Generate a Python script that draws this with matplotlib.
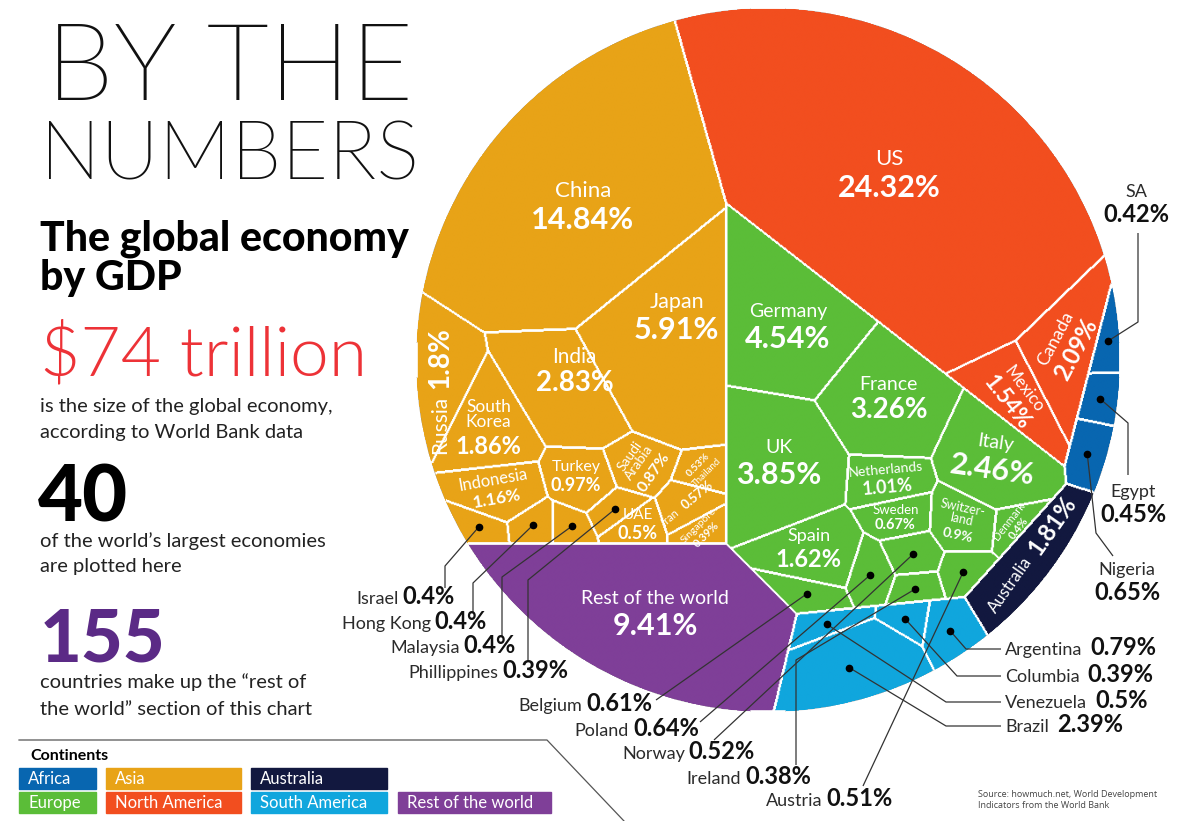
import numpy as np
import matplotlib
matplotlib.use('Agg')
import matplotlib.pyplot as plt
from matplotlib.patches import Circle, Rectangle
from matplotlib import font_manager
from matplotlib.font_manager import FontProperties

# share of world GDP (%), by continent
asia_names = ['China', 'Japan', 'India', 'South Korea', 'Russia', 'Indonesia', 'Turkey',
              'Saudi Arabia', 'UAE', 'Iran', 'Thailand', 'Singapore', 'Israel',
              'Hong Kong', 'Malaysia', 'Phillippines']
asia_gdp = [14.84, 5.91, 2.83, 1.86, 1.8, 1.16, 0.97, 0.87, 0.5, 0.57, 0.53, 0.39,
            0.4, 0.4, 0.4, 0.39]
namerica_names = ['US', 'Canada', 'Mexico']
namerica_gdp = [24.32, 2.09, 1.54]
europe_names = ['Germany', 'France', 'UK', 'Italy', 'Spain', 'Netherlands', 'Sweden',
                'Switzerland', 'Denmark', 'Belgium', 'Poland', 'Norway', 'Ireland', 'Austria']
europe_gdp = [4.54, 3.26, 3.85, 2.46, 1.62, 1.01, 0.67, 0.9, 0.4, 0.61, 0.64, 0.52,
              0.38, 0.51]
rest_names = ['Rest of the world']
rest_gdp = [9.41]
samerica_names = ['Argentina', 'Columbia', 'Venezuela', 'Brazil']
samerica_gdp = [0.79, 0.39, 0.5, 2.39]
australia_names = ['Australia']
australia_gdp = [1.81]
africa_names = ['SA', 'Egypt', 'Nigeria']
africa_gdp = [0.42, 0.45, 0.65]

groups = [('Asia', asia_names, asia_gdp),
          ('North America', namerica_names, namerica_gdp),
          ('Europe', europe_names, europe_gdp),
          ('Rest of the world', rest_names, rest_gdp),
          ('South America', samerica_names, samerica_gdp),
          ('Australia', australia_names, australia_gdp),
          ('Africa', africa_names, africa_gdp)]

colors = {'Africa': '#0866b0', 'Asia': '#e8a317', 'Australia': '#12183f',
          'Europe': '#5bbd38', 'North America': '#f24e1f', 'South America': '#10a6dd',
          'Rest of the world': '#7f3f98'}

# layout hints: generator points of the voronoi treemap (unit circle)
cont_seed = {'Asia': (-0.5, -0.05), 'North America': (0.46, 0.22), 'Europe': (0.25, -0.05),
             'Rest of the world': (-0.5, -0.8), 'South America': (0.345, -1.0),
             'Australia': (0.92, -0.65), 'Africa': (1.14, 0.045)}
seed = {'China': (-0.55, 0.5), 'Japan': (-0.26, 0.14), 'India': (-0.53, -0.01),
        'South Korea': (-0.78, -0.16), 'Russia': (-0.93, -0.085), 'Indonesia': (-0.76, -0.34),
        'Turkey': (-0.54, -0.28), 'Saudi Arabia': (-0.40, -0.23), 'UAE': (-0.41, -0.44),
        'Iran': (-0.23, -0.38), 'Thailand': (-0.21, -0.30), 'Singapore': (-0.19, -0.455),
        'Israel': (-0.81, -0.48), 'Hong Kong': (-0.68, -0.466), 'Malaysia': (-0.61, -0.466),
        'Phillippines': (-0.446, -0.39),
        'US': (0.36, 0.53), 'Canada': (0.84, 0.03), 'Mexico': (0.645, -0.07),
        'Germany': (0.06, 0.11), 'France': (0.32, -0.10), 'UK': (-0.01, -0.31),
        'Italy': (0.62, -0.24), 'Spain': (0.09, -0.57), 'Netherlands': (0.31, -0.335),
        'Sweden': (0.33, -0.43), 'Switzerland': (0.52, -0.44), 'Denmark': (0.66, -0.455),
        'Belgium': (0.065, -0.69), 'Poland': (0.23, -0.615), 'Norway': (0.355, -0.557),
        'Ireland': (0.364, -0.662), 'Austria': (0.52, -0.614),
        'Rest of the world': (-0.36, -0.71),
        'Argentina': (0.52, -0.78), 'Columbia': (0.40, -0.76), 'Venezuela': (0.29, -0.75),
        'Brazil': (0.335, -0.87),
        'Australia': (0.77, -0.51),
        'SA': (0.95, 0.12), 'Egypt': (0.955, -0.08), 'Nigeria': (0.92, -0.25)}

FONT = ['Lato', 'DejaVu Sans']
thin_file = next((f.fname for f in font_manager.fontManager.ttflist
                  if f.fname.endswith('Lato-ExtraLight.ttf')), None)


def thin(size):
    if thin_file:
        return FontProperties(fname=thin_file, size=size)
    return FontProperties(family=FONT, weight=300, size=size)


def grid(n):
    g = (np.arange(n) + 0.5) / n * 2 - 1
    gx, gy = np.meshgrid(g, g)
    ins = gx ** 2 + gy ** 2 <= 1
    return gx[ins], gy[ins], ins


def assign(px, py, pts, w):
    d2 = (px[:, None] - pts[:, 0]) ** 2 + (py[:, None] - pts[:, 1]) ** 2
    return np.argmin(d2 - w, axis=1)


def fit_weights(px, py, pts, vals, cell, steps=500):
    d2 = (px[:, None] - pts[:, 0]) ** 2 + (py[:, None] - pts[:, 1]) ** 2
    frac = np.asarray(vals, float) / np.sum(vals)
    w = np.zeros(len(frac))
    lr = len(px) * cell / np.pi
    for k in range(steps):
        lab = np.argmin(d2 - w, axis=1)
        area = np.bincount(lab, minlength=len(frac)) / len(px)
        w += lr * (1.2 - k / steps) * (frac - area)
    return w


# power diagram, first continents then countries inside each continent
NC, N = 240, 800
cx_, cy_, _ = grid(NC)
fx, fy, INS = grid(N)
cont_pts = np.array([cont_seed[g[0]] for g in groups])
wc = fit_weights(cx_, cy_, cont_pts, [sum(g[2]) for g in groups], (2 / NC) ** 2)
cont_c = assign(cx_, cy_, cont_pts, wc)
cont_f = assign(fx, fy, cont_pts, wc)

lab_f = np.full(len(fx), -1)
names, vals, conts = [], [], []
for ci, (cont, nm, v) in enumerate(groups):
    pts = np.array([seed[n] for n in nm])
    mc = cont_c == ci
    w = fit_weights(cx_[mc], cy_[mc], pts, v, (2 / NC) ** 2) if len(nm) > 1 else np.zeros(1)
    mf = cont_f == ci
    lab_f[mf] = len(names) + assign(fx[mf], fy[mf], pts, w)
    names += nm
    vals += v
    conts += [cont] * len(nm)

lab = np.full(INS.shape, -1)
lab[INS] = lab_f
rgba = np.zeros(INS.shape + (4,))
carr = np.array([matplotlib.colors.to_rgba(colors[c]) for c in conts])
rgba[INS] = carr[lab_f]
edge = np.zeros(INS.shape, bool)
for axis, s in [(0, 1), (0, -1), (0, 2), (1, 1), (1, -1), (1, 2)]:
    sh = np.roll(lab, s, axis=axis)
    edge |= (lab != sh) & (lab >= 0) & (sh >= 0)
rgba[edge] = (1, 1, 1, 1)

cent = {}
for k, n in enumerate(names):
    m = lab_f == k
    cent[n] = (fx[m].mean(), fy[m].mean()) if m.any() else seed[n]

# ---- figure ----
W, H = 1200, 821
CX, CY, R = 768, 360, 352
fig = plt.figure(figsize=(W / 100, H / 100), dpi=100)
ax = fig.add_axes([(CX - R) / W, (H - CY - R) / H, 2 * R / W, 2 * R / H])
ax.set_xlim(-1, 1)
ax.set_ylim(-1, 1)
ax.axis('off')
im = ax.imshow(rgba, extent=(-1, 1, -1, 1), origin='lower', interpolation='antialiased')
im.set_clip_path(Circle((0, 0), 1, transform=ax.transData))

ov = fig.add_axes([0, 0, 1, 1])
ov.set_xlim(0, W)
ov.set_ylim(H, 0)
ov.axis('off')
ov.patch.set_visible(False)
ov.set_zorder(3)


def to_px(p):
    return CX + R * p[0], CY - R * p[1]


def fmt(v):
    return f'{v:g}%'


# labels inside cells: name size, value size, rotation, shown name, value on top
inner = {'US': (16, 22, 0, 'US'), 'China': (16, 22, 0, 'China'),
         'Japan': (15.5, 22, 0, 'Japan'), 'India': (15, 20, 0, 'India'),
         'Germany': (14, 22, 0, 'Germany'), 'France': (14, 20, 0, 'France'),
         'UK': (14, 22, 0, 'UK'), 'Italy': (14, 22, -8, 'Italy'),
         'Rest of the world': (14, 22, 0, 'Rest of the world'), 'Spain': (13, 17, 0, 'Spain'),
         'Canada': (13, 17, 62, 'Canada'), 'Mexico': (12, 16, -52, 'Mexico'),
         'South Korea': (12.5, 17, 0, 'South\nKorea'), 'Indonesia': (12, 12.5, 10, 'Indonesia'),
         'Turkey': (11.5, 13, 0, 'Turkey'), 'Saudi Arabia': (10, 11.5, 55, 'Saudi\nArabia'),
         'Netherlands': (10, 13, 5, 'Netherlands'), 'Sweden': (9.5, 10.5, 0, 'Sweden'),
         'Switzerland': (9, 10, -12, 'Switzer-\nland'), 'Denmark': (8, 8, 52, 'Denmark'),
         'UAE': (11, 13, 0, 'UAE'), 'Thailand': (7, 7.5, 45, 'Thailand', True),
         'Singapore': (7.5, 8, 45, 'Singapore')}
inline = {'Russia': (15, 20, 90), 'Australia': (12, 17, 55), 'Iran': (8, 9.5, 40)}
# small label nudges in pixels (x right, y down)
nudge = {'China': (3, 15), 'Japan': (7, -26), 'India': (16, -16), 'Germany': (5, 10),
         'Russia': (-4, 25), 'UAE': (0, -3)}


def label_xy(n):
    x, y = cent[n]
    dx, dy = nudge.get(n, (0, 0))
    return x + dx / R, y - dy / R


for n, st in inner.items():
    ns, vs, rot, shown = st[:4]
    vfirst = len(st) > 4
    x, y = label_xy(n)
    t = np.radians(rot)
    hn = (shown.count('\n') + 1) * ns * 1.1
    hv = vs * 1.1
    tot = hn + hv
    up = np.array([-np.sin(t), np.cos(t)])
    sgn = -1 if vfirst else 1
    o1 = sgn * up * (tot / 2 - hn / 2)
    o2 = -sgn * up * (tot / 2 - hv / 2)
    ax.annotate(shown, (x, y), xytext=o1, textcoords='offset points', ha='center',
                va='center', rotation=rot, rotation_mode='anchor', color='white',
                fontsize=ns, family=FONT, linespacing=0.95)
    ax.annotate(fmt(vals[names.index(n)]), (x, y), xytext=o2, textcoords='offset points',
                ha='center', va='center', rotation=rot, rotation_mode='anchor',
                color='white', fontsize=vs, family=FONT, fontweight='bold')

for n, (ns, vs, rot) in inline.items():
    x, y = label_xy(n)
    t = np.radians(rot)
    u = np.array([np.cos(t), np.sin(t)])
    v = fmt(vals[names.index(n)])
    wn, wv = 0.5 * ns * len(n), 0.56 * vs * len(v)
    j = (wn - wv) / 2
    ax.annotate(n, (x, y), xytext=u * (j - 2.5), textcoords='offset points', ha='right',
                va='center', rotation=rot, rotation_mode='anchor', color='white',
                fontsize=ns, family=FONT)
    ax.annotate(v, (x, y), xytext=u * (j + 2.5), textcoords='offset points',
                ha='left', va='center', rotation=rot, rotation_mode='anchor', color='white',
                fontsize=vs, family=FONT, fontweight='bold')

# callouts: label position (px), alignment, elbow points (px)
callouts = {
    'Israel': ((455, 604), 'right', [(445, 588), (445, 566)]),
    'Hong Kong': ((487, 629), 'right', [(473, 612), (473, 583)]),
    'Malaysia': ((516, 653), 'right', [(502, 636), (502, 577)]),
    'Phillippines': ((568, 678), 'right', [(528, 661), (528, 580)]),
    'Belgium': ((652, 711), 'right', [(656, 700)]),
    'Poland': ((699, 736), 'right', [(700, 722)]),
    'Norway': ((755, 759), 'right', [(714, 740)]),
    'Ireland': ((811, 784), 'right', [(796, 765), (796, 660)]),
    'Austria': ((893, 806), 'right', [(863, 786)]),
    'Argentina': ((1005, 655), 'left', [(1001, 649), (966, 649)]),
    'Columbia': ((1005, 682), 'left', [(1001, 676), (957, 676)]),
    'Venezuela': ((1005, 708), 'left', [(1001, 702), (946, 702)]),
    'Brazil': ((1005, 732), 'left', [(1001, 726), (946, 726)]),
    'SA': ((1136, 192), 'stack', [(1138, 233), (1138, 322)]),
    'Egypt': ((1133, 492), 'stack', [(1128, 475), (1128, 423)]),
    'Nigeria': ((1127, 570), 'stack', [(1113, 556), (1096, 533)]),
}
rend = fig.canvas.get_renderer()
for n, ((lx, ly), how, path) in callouts.items():
    v = fmt(vals[names.index(n)])
    kw_n = dict(fontsize=13, family=FONT, color='#2b2b2b')
    kw_v = dict(fontsize=17, family=FONT, color='#111111', fontweight='bold')
    if how == 'right':
        tv = ov.text(lx, ly, v, ha='right', va='baseline', **kw_v)
        wv = tv.get_window_extent(rend).width
        ov.text(lx - wv - 4, ly, n, ha='right', va='baseline', **kw_n)
    elif how == 'left':
        tn = ov.text(lx, ly, n, ha='left', va='baseline', **kw_n)
        wn = tn.get_window_extent(rend).width
        ov.text(lx + wn + 8, ly, v, ha='left', va='baseline', **kw_v)
    else:
        ov.text(lx, ly, n, ha='center', va='center', **kw_n)
        ov.text(lx, ly + 23, v, ha='center', va='center', **kw_v)
    dot = to_px(cent[n])
    pts = np.array(path + [dot])
    ov.plot(pts[:, 0], pts[:, 1], color='#333333', lw=0.9, solid_capstyle='butt')
    ov.plot(*dot, 'o', color='black', ms=4.5)

# left side text
ov.text(46, 100, 'BY THE', fontproperties=thin(78), va='baseline', color='#111111')
ov.text(40, 180, 'NUMBERS', fontproperties=thin(58), va='baseline', color='#111111')
ov.text(40, 250, 'The global economy', fontsize=29.5, family=FONT, fontweight=900,
        va='baseline')
ov.text(40, 290, 'by GDP', fontsize=29.5, family=FONT, fontweight=900, va='baseline')
ov.text(40, 375, '$74 trillion', fontsize=50, family=FONT, fontweight=300, color='#ed3237',
        va='baseline')
body = dict(fontsize=14.5, family=FONT, color='#222222', va='baseline')
ov.text(40, 412, 'is the size of the global economy,', **body)
ov.text(40, 438, 'according to World Bank data', **body)
ov.text(38, 522, '40', fontsize=56, family=FONT, fontweight=900, va='baseline')
ov.text(40, 547, 'of the world\u2019s largest economies', **body)
ov.text(40, 572, 'are plotted here', **body)
ov.text(40, 662, '155', fontsize=52, family=FONT, fontweight=900, color='#5b2a86',
        va='baseline')
ov.text(40, 688, 'countries make up the \u201crest of', **body)
ov.text(40, 715, 'the world\u201d section of this chart', **body)

# legend
ov.plot([19, 547, 624], [740, 740, 821], color='#555555', lw=0.9)
ov.text(30, 760, 'Continents', fontsize=11.5, family=FONT, fontweight='bold', va='baseline')
legend_boxes = [('Africa', 19, 768, 77), ('Asia', 106, 768, 135), ('Australia', 251, 768, 136),
                ('Europe', 19, 792, 77), ('North America', 106, 792, 135),
                ('South America', 251, 792, 136), ('Rest of the world', 398, 792, 153)]
for name, x0, y0, wd in legend_boxes:
    ov.add_patch(Rectangle((x0, y0), wd, 21, color=colors[name]))
    ov.text(x0 + 9, y0 + 11, name, fontsize=12, family=FONT, color='white', va='center')

ov.text(978, 790, 'Source: howmuch.net, World Development\nIndicators from the World Bank',
        fontsize=6.5, family=['Open Sans', 'DejaVu Sans'], color='#444444', va='top',
        linespacing=1.3)

fig.savefig('out.png', dpi=100)
